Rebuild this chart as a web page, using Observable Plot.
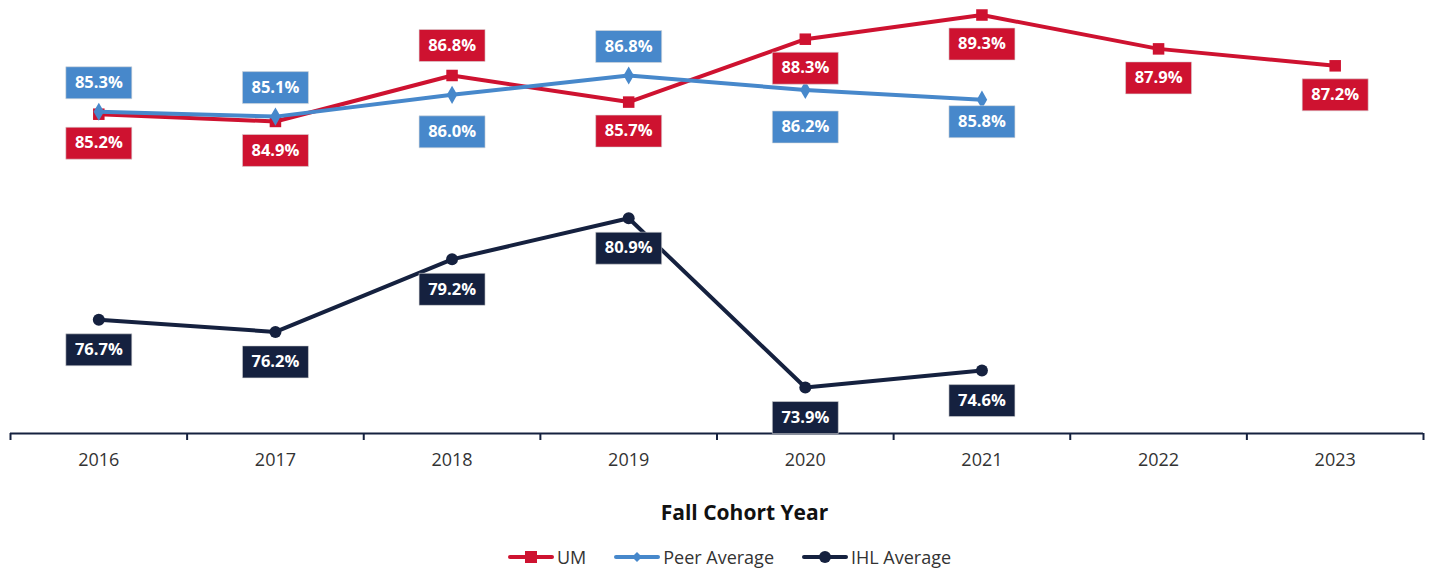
<!DOCTYPE html>
<html>
<head>
<meta charset="utf-8">
<script src="https://cdn.jsdelivr.net/npm/d3@7"></script>
<script src="https://cdn.jsdelivr.net/npm/@observablehq/plot@0.6"></script>
<style>
  body { margin: 0; background: #fff; font-family: "Open Sans", sans-serif; }
  #title { width: 1429px; height: 44px; line-height: 44px; text-align: center; font-weight: bold; font-size: 21px; color: #111; padding-left: 60px; box-sizing: border-box; }
  #legend { width: 1429px; height: 46px; display: flex; justify-content: center; align-items: center; gap: 28px; font-size: 18px; color: #333; padding-left: 30px; box-sizing: border-box; }
  .item { display: flex; align-items: center; gap: 3px; }
</style>
</head>
<body>
<div id="chart"></div>
<div id="title">Fall Cohort Year</div>
<div id="legend"></div>
<script>
const years = [2016, 2017, 2018, 2019, 2020, 2021, 2022, 2023];
const umValues = [85.2, 84.9, 86.8, 85.7, 88.3, 89.3, 87.9, 87.2];
const peerYears = [2016, 2017, 2018, 2019, 2020, 2021];
const peerValues = [85.3, 85.1, 86.0, 86.8, 86.2, 85.8];
const ihlYears = [2016, 2017, 2018, 2019, 2020, 2021];
const ihlValues = [76.7, 76.2, 79.2, 80.9, 73.9, 74.6];
const umPlace = ["below", "below", "above", "below", "below", "below", "below", "below"];
const peerPlace = ["above", "above", "below", "above", "below", "near"];
const ihlPlace = ["below", "below", "below", "below", "below", "below"];
const seriesNames = ["UM", "Peer Average", "IHL Average"];

const RED = "#CE1230", BLUE = "#4788CB", NAVY = "#15213F";

function rows(xs, vs, places, name) {
  return xs.map((x, i) => ({year: x, value: vs[i], place: places[i], series: name}));
}
const um = rows(years, umValues, umPlace, "UM");
const peer = rows(peerYears, peerValues, peerPlace, "Peer Average");
const ihl = rows(ihlYears, ihlValues, ihlPlace, "IHL Average");

const boxSymbol = { draw(ctx) { ctx.rect(-33, -16, 66, 32); } };

function labels(data, color, offsets) {
  const fmt = d => d.value.toFixed(1) + "%";
  const marks = [];
  for (const [place, off] of Object.entries(offsets)) {
    const sub = data.filter(d => d.place === place);
    if (!sub.length) continue;
    marks.push(Plot.dot(sub, {x: "year", y: "value", dy: off, symbol: boxSymbol, r: 10, fill: color, stroke: "#d8d8d8", strokeWidth: 0.6}));
    marks.push(Plot.text(sub, {x: "year", y: "value", dy: off, text: fmt, fill: "white", fontWeight: "bold", fontSize: 16.5}));
  }
  return marks;
}

const boundaries = d3.range(years.length + 1).map(i => years[0] - 0.5 + i);

const chart = Plot.plot({
  width: 1429,
  height: 490,
  marginTop: 0,
  marginBottom: 57,
  marginLeft: 10,
  marginRight: 6,
  style: {fontFamily: "Open Sans, sans-serif", fontSize: "18px", color: "#333"},
  x: {type: "linear", domain: [years[0] - 0.5, years[years.length - 1] + 0.5]},
  y: {domain: [72, 89.9], axis: null},
  marks: [
    Plot.axisX({ticks: boundaries, tickFormat: () => "", tickSize: 7, stroke: NAVY, strokeWidth: 2, label: null}),
    Plot.axisX({ticks: years, tickFormat: d => String(d), tickSize: 0, tickPadding: 20, label: null, fontSize: 18, fill: "#333"}),
    Plot.ruleY([72], {stroke: NAVY, strokeWidth: 2}),
    Plot.line(um, {x: "year", y: "value", stroke: RED, strokeWidth: 4}),
    Plot.dot(um, {x: "year", y: "value", symbol: "square", r: 6.5, fill: RED}),
    Plot.line(peer, {x: "year", y: "value", stroke: BLUE, strokeWidth: 4}),
    Plot.dot(peer, {x: "year", y: "value", symbol: "diamond", r: 5.5, fill: BLUE}),
    Plot.line(ihl, {x: "year", y: "value", stroke: NAVY, strokeWidth: 4}),
    Plot.dot(ihl, {x: "year", y: "value", symbol: "circle", r: 6, fill: NAVY}),
    ...labels(um, RED, {above: -30, below: 29}),
    ...labels(peer, BLUE, {above: -29, below: 37, near: 22}),
    ...labels(ihl, NAVY, {below: 30})
  ]
});
document.getElementById("chart").appendChild(chart);

// Legend
const colors = {"UM": RED, "Peer Average": BLUE, "IHL Average": NAVY};
const marker = {
  "UM": '<rect x="17" y="1" width="12" height="12" fill="' + RED + '"/>',
  "Peer Average": '<path d="M23 2 L28 7 L23 12 L18 7 Z" fill="' + BLUE + '"/>',
  "IHL Average": '<circle cx="23" cy="7" r="6" fill="' + NAVY + '"/>'
};
const legend = document.getElementById("legend");
for (const name of seriesNames) {
  const item = document.createElement("div");
  item.className = "item";
  item.innerHTML = '<svg width="46" height="14"><line x1="2" y1="7" x2="44" y2="7" stroke="' + colors[name] + '" stroke-width="4" stroke-linecap="round"/>' + marker[name] + '</svg><span>' + name + '</span>';
  legend.appendChild(item);
}
</script>
</body>
</html>
